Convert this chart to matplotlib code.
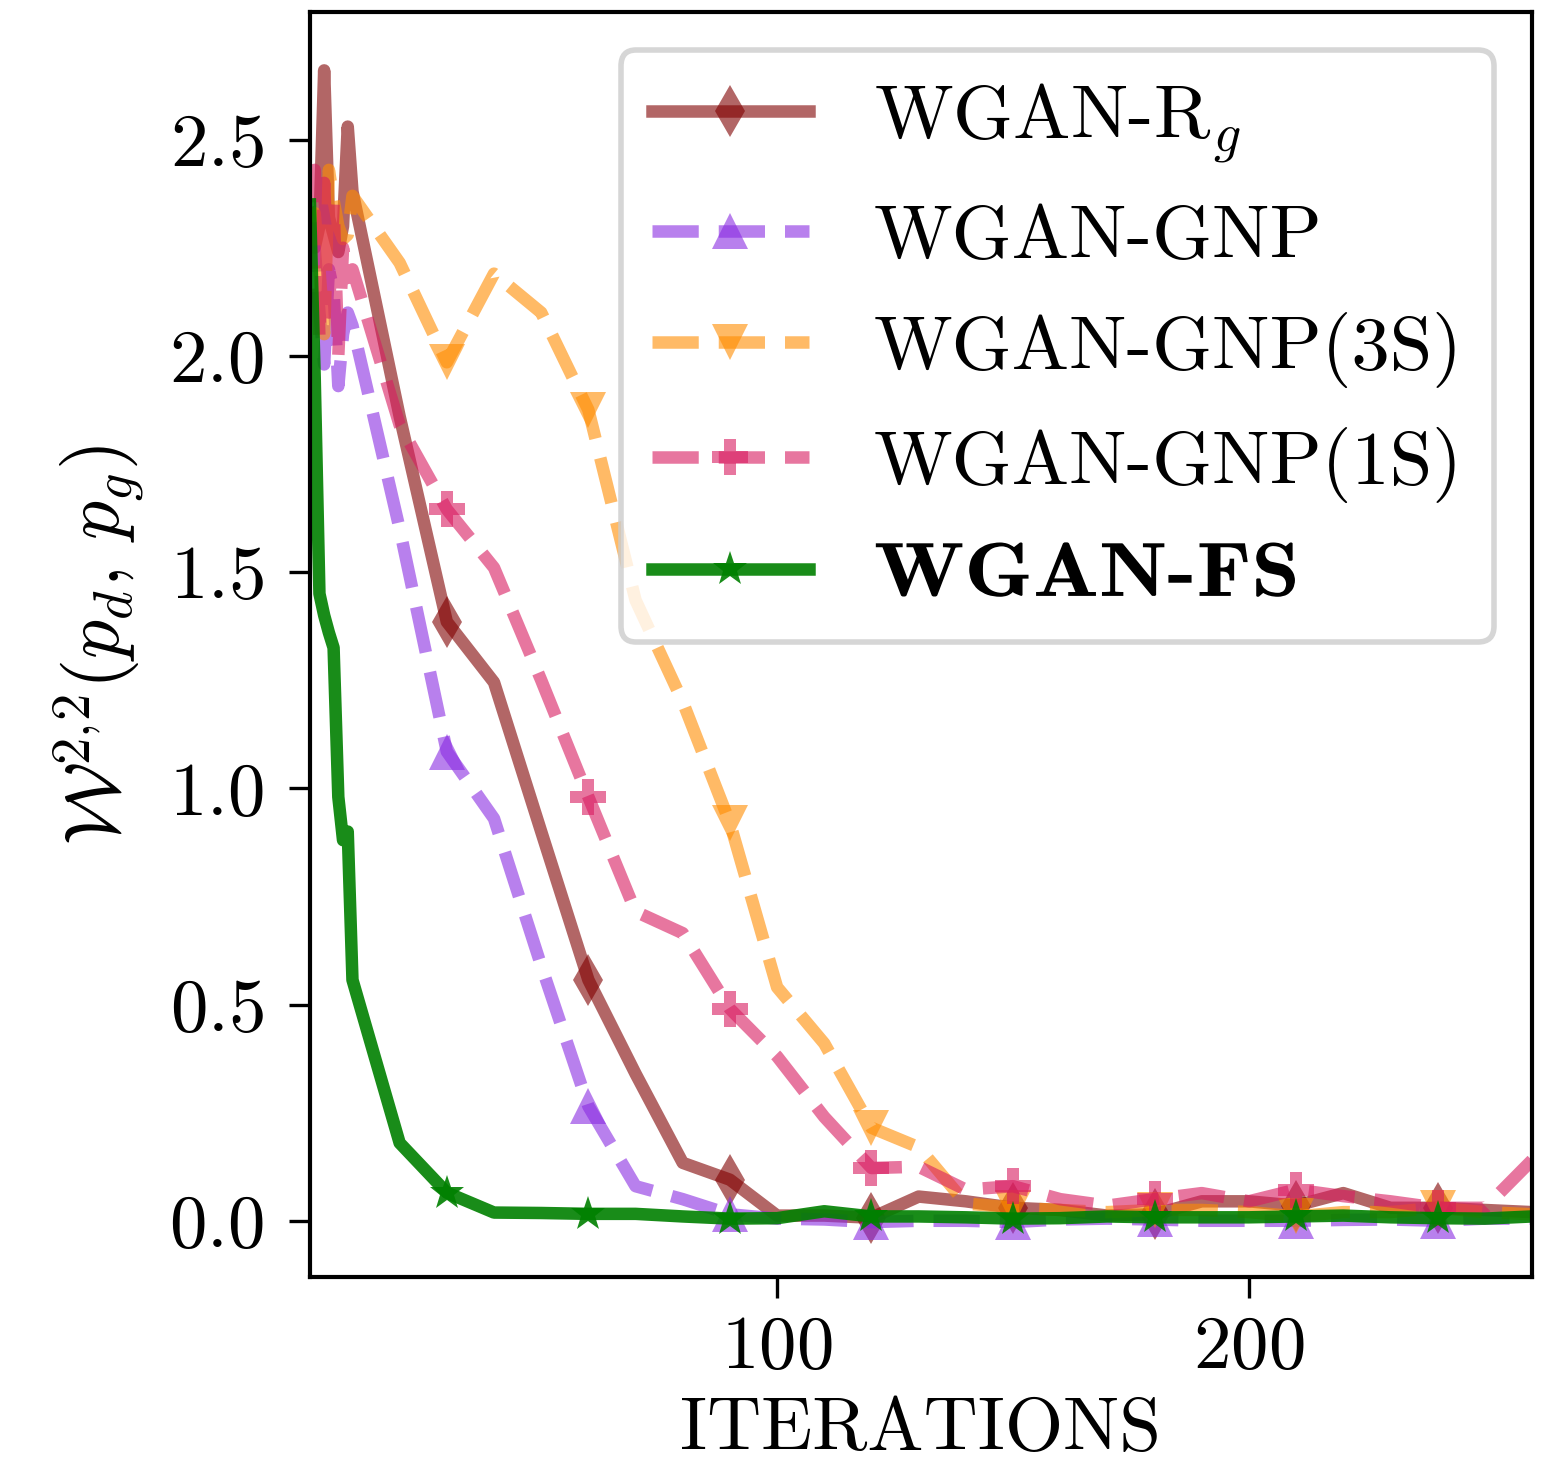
import matplotlib
matplotlib.use("Agg")
import matplotlib.pyplot as plt
from matplotlib.patheffects import AbstractPathEffect
from matplotlib.transforms import Affine2D

plt.rcParams["font.family"] = ["cmr10", "DejaVu Serif"]
plt.rcParams["mathtext.fontset"] = "cm"
plt.rcParams["axes.unicode_minus"] = False
plt.rcParams["axes.formatter.use_mathtext"] = True

# iterations: dense for the first ten, then every ten
iterations = list(range(1, 11)) + list(range(20, 261, 10))

w_rg = [2.33, 2.25, 2.30, 2.66, 2.32, 2.28, 2.24, 2.30, 2.53, 2.38,
        1.86, 1.385, 1.245, 0.90, 0.557, 0.34, 0.134, 0.095, 0.012, 0.012,
        0.007, 0.056, 0.045, 0.03, 0.025, 0.012, 0.015, 0.045, 0.045, 0.035,
        0.064, 0.03, 0.03, 0.025, 0.02]
w_gnp = [2.30, 2.25, 2.10, 1.98, 2.20, 2.15, 1.93, 2.05, 2.10, 2.07,
         1.60, 1.085, 0.93, 0.59, 0.265, 0.08, 0.05, 0.015, 0.005, 0.003,
         -0.003, 0.0, 0.0, -0.003, 0.003, 0.005, 0.003, 0.0, 0.0, 0.0,
         0.002, 0.003, 0.0, 0.005, 0.005]
w_gnp_3s = [2.30, 2.33, 2.20, 2.05, 2.43, 2.36, 2.30, 2.27, 2.28, 2.37,
            2.215, 1.985, 2.19, 2.10, 1.875, 1.435, 1.20, 0.92, 0.54, 0.41,
            0.215, 0.17, 0.04, 0.03, 0.025, 0.02, 0.025, 0.025, 0.02, 0.01,
            0.02, 0.02, 0.03, 0.02, 0.015]
w_gnp_1s = [2.40, 2.43, 2.04, 2.40, 2.10, 2.35, 2.00, 2.25, 2.18, 2.20,
            1.84, 1.645, 1.51, 1.25, 0.98, 0.715, 0.665, 0.49, 0.38, 0.24,
            0.122, 0.125, 0.072, 0.08, 0.05, 0.035, 0.05, 0.064, 0.045, 0.072,
            0.057, 0.045, 0.03, 0.03, 0.14]
w_fs = [2.35, 1.95, 1.45, 1.40, 1.36, 1.325, 0.98, 0.88, 0.90, 0.557,
        0.18, 0.065, 0.019, 0.018, 0.016, 0.016, 0.01, 0.005, 0.006, 0.022,
        0.01, 0.01, 0.008, 0.005, 0.006, 0.01, 0.008, 0.008, 0.008, 0.01,
        0.012, 0.008, 0.006, 0.005, 0.01]

labels = [r"WGAN-R$_g$", "WGAN-GNP", "WGAN-GNP(3S)", "WGAN-GNP(1S)", "WGAN-FS"]
xticks = [100, 200]
yticks = [0.0, 0.5, 1.0, 1.5, 2.0, 2.5]


class WideText(AbstractPathEffect):
    """Stretch a text path horizontally from its left edge (extended bold look)."""

    def __init__(self, sx):
        super().__init__()
        self.sx = sx

    def draw_path(self, renderer, gc, tpath, affine, rgbFace=None):
        renderer.draw_path(gc, tpath, Affine2D().scale(self.sx, 1.0) + affine, rgbFace)


fig = plt.figure(figsize=(1557 / 200, 1475 / 200), dpi=200)
ax = fig.add_axes([310 / 1557, 1 - 1277 / 1475, (1532 - 310) / 1557, (1277 - 12) / 1475])

lw = 4.5
ms = 13
mark = (11, 3)

ax.plot(iterations, w_rg, color="#800000", alpha=0.6, lw=lw, ls="-",
        marker="d", ms=ms, mew=0, markevery=mark, label=labels[0])
ax.plot(iterations, w_gnp, color="blueviolet", alpha=0.6, lw=lw, ls="--",
        marker="^", ms=ms, mew=0, markevery=mark, label=labels[1])
ax.plot(iterations, w_gnp_3s, color="darkorange", alpha=0.6, lw=lw, ls="--",
        marker="v", ms=ms, mew=0, markevery=mark, label=labels[2])
ax.plot(iterations, w_gnp_1s, color="#D81B60", alpha=0.6, lw=lw, ls="--",
        marker="P", ms=ms, mew=0, markevery=mark, label=labels[3])
ax.plot(iterations, w_fs, color="green", alpha=0.9, lw=lw, ls="-",
        marker="*", ms=ms, mew=0, markevery=mark, label=labels[4])

ax.set_xlim(1, 260)
ax.set_ylim(-0.13, 2.795)
ax.set_xticks(xticks)
ax.set_xticklabels([f"${t}$" for t in xticks])
ax.set_yticks(yticks)
ax.set_yticklabels([f"${t:.1f}$" for t in yticks])

for s in ax.spines.values():
    s.set_linewidth(1.5)
ax.tick_params(axis="both", labelsize=27, length=7.5, width=1.2, pad=6.5)
ax.tick_params(axis="y", pad=9)

ax.set_xlabel("ITERATIONS", fontsize=27, labelpad=5)
ax.set_ylabel(r"$\mathcal{W}^{2,\!2}(p_d,\, p_g)$", fontsize=28, labelpad=8)

leg = ax.legend(loc="upper right", fontsize=27.6, fancybox=True, framealpha=0.8,
                labelspacing=0.51, handlelength=2.05, handletextpad=0.85)
leg.get_frame().set_linewidth(2.0)
bold = leg.get_texts()[4]
bold.set_fontfamily("cmb10")
bold.set_path_effects([WideText(1.14)])

fig.savefig("out.png", dpi=200)
